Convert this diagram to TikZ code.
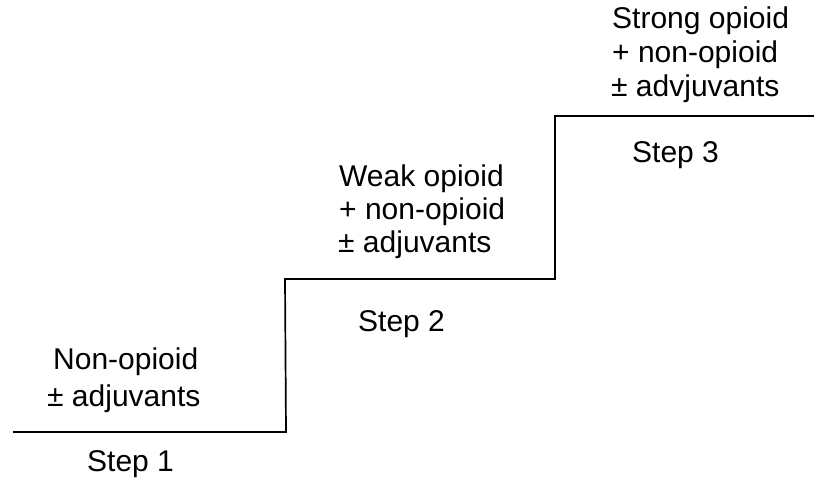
\documentclass[tikz,border=0pt]{standalone}
\usepackage{fontspec}
\setmainfont{Liberation Sans}
\begin{document}
\begin{tikzpicture}[x=1pt,y=-1pt,
  lbl/.style={anchor=base west,inner sep=0pt,font=\fontsize{30}{33}\selectfont},
  stair/.style={line width=1.7pt,line join=miter}]
\useasboundingbox (0,0) rectangle (814,478);
\coordinate (s0) at (13,432);
\coordinate (s1) at (286,432);
\coordinate (s2) at (285,279);
\coordinate (s3) at (555,279);
\coordinate (s4) at (555,116);
\coordinate (s5) at (816,116);
\draw[stair] (s0) -- (s1) -- (s2) -- (s3) -- (s4) -- (s5);
% step 1
\node[lbl] (n1a) at (53,370) {Non-opioid};
\node[lbl] (n1b) at (47,406) {± adjuvants};
\node[lbl] (st1) at (87,471) {Step 1};
% step 2
\node[lbl] (n2a) at (339,187) {Weak opioid};
\node[lbl] (n2b) at (339,220) {+ non-opioid};
\node[lbl] (n2c) at (338,253) {± adjuvants};
\node[lbl] (st2) at (358,332) {Step 2};
% step 3
\node[lbl] (n3a) at (612,29) {Strong opioid};
\node[lbl] (n3b) at (612,63) {+ non-opioid};
\node[lbl] (n3c) at (611,97) {± advjuvants};
\node[lbl] (st3) at (632,163) {Step 3};
\end{tikzpicture}
\end{document}
